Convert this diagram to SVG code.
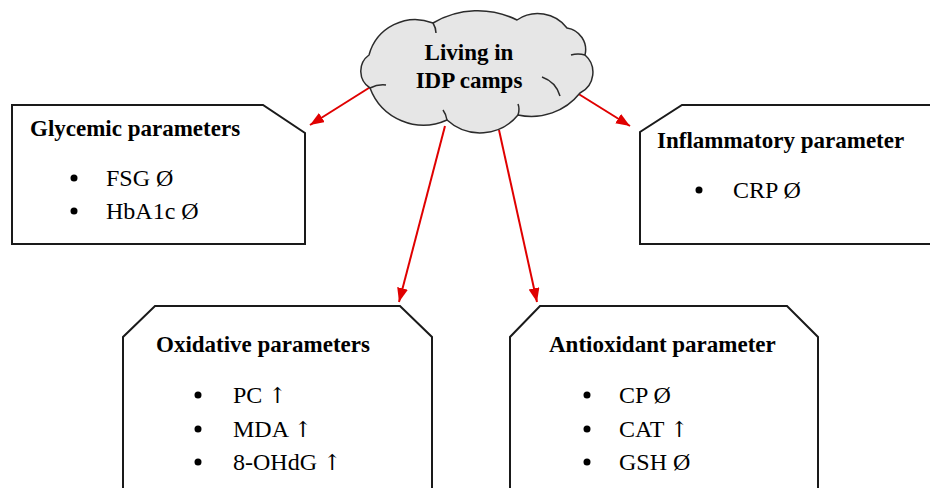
<svg xmlns="http://www.w3.org/2000/svg" width="930" height="488" viewBox="0 0 930 488">
  <defs>
    <marker id="arr" markerUnits="userSpaceOnUse" markerWidth="15" markerHeight="12" refX="14" refY="5.5" orient="auto">
      <path d="M0,0 L14,5.5 L0,11 z" fill="#e00000"/>
    </marker>
    <style>
      .box { fill: #ffffff; stroke: #1a1a1a; stroke-width: 2; }
      .cloud { fill: #e6e6e6; stroke: #2b2b2b; stroke-width: 1.5; }
      .inner { fill: none; stroke: #2b2b2b; stroke-width: 1.5; }
      .title { font-family: "Liberation Serif", "Times New Roman", serif; font-weight: bold; font-size: 23px; fill: #000; }
      .item { font-family: "Liberation Serif", "Times New Roman", serif; font-size: 24px; fill: #000; }
      .up { font-family: "DejaVu Serif", "DejaVu Sans", serif; font-size: 22px; fill: #000; }
      .bul { fill: #000; }
      .conn { stroke: #e00000; stroke-width: 2; fill: none; marker-end: url(#arr); }
    </style>
  </defs>
  <rect width="930" height="488" fill="#ffffff"/>

  <g id="connectors">
    <line class="conn" x1="372" y1="86" x2="310" y2="125"/>
    <line class="conn" x1="577" y1="93" x2="630" y2="126"/>
    <line class="conn" x1="445" y1="126" x2="399" y2="302"/>
    <line class="conn" x1="499" y1="130" x2="537" y2="302"/>
  </g>

  <g id="cloud">
    <path class="cloud" d="M370,88 A20,20 0 0 1 369,55 A48,48 0 0 1 433,23 A88,88 0 0 1 517,20 A37,37 0 0 1 567,28 A22,22 0 0 1 585,55 A23,23 0 0 1 580,93 A62,62 0 0 1 518,115 A49,49 0 0 1 447,120 A57,57 0 0 1 370,88 Z"/>
    <path class="inner" d="M370,88 Q378,84 386,85"/>
    <path class="inner" d="M447,120 Q446,114 443,110"/>
    <path class="inner" d="M518,115 Q520,109 518,104"/>
    <path class="inner" d="M542,77 Q556,82 560,96"/>
    <path class="inner" d="M585,55 Q578,53 571,55"/>
    <path class="inner" d="M433,23 Q436,28 436,33"/>
    <text class="title" x="469" y="60" text-anchor="middle">Living in</text>
    <text class="title" x="469" y="88" text-anchor="middle">IDP camps</text>
  </g>

  <g id="glycemic">
    <path class="box" d="M12,105 L263,105 L305,133 L305,244 L12,244 Z"/>
    <text class="title" x="30" y="136">Glycemic parameters</text>
    <circle class="bul" cx="74" cy="178" r="3.5"/>
    <text class="item" x="106" y="186">FSG Ø</text>
    <circle class="bul" cx="74" cy="211" r="3.5"/>
    <text class="item" x="106" y="219">HbA1c Ø</text>
  </g>

  <g id="inflammatory">
    <path class="box" d="M682,105 L940,105 L940,244 L640,244 L640,132 Z"/>
    <text class="title" x="657" y="148">Inflammatory parameter</text>
    <circle class="bul" cx="699" cy="190" r="3.5"/>
    <text class="item" x="733" y="198">CRP Ø</text>
  </g>

  <g id="oxidative">
    <path class="box" d="M123,500 L123,337 L155,306 L400,306 L432,337 L432,500"/>
    <text class="title" x="156" y="352">Oxidative parameters</text>
    <circle class="bul" cx="198" cy="395" r="3.5"/>
    <text class="item" x="233" y="403">PC <tspan class="up">↑</tspan></text>
    <circle class="bul" cx="198" cy="429" r="3.5"/>
    <text class="item" x="233" y="437">MDA <tspan class="up">↑</tspan></text>
    <circle class="bul" cx="198" cy="462" r="3.5"/>
    <text class="item" x="233" y="470">8-OHdG <tspan class="up">↑</tspan></text>
  </g>

  <g id="antioxidant">
    <path class="box" d="M510,500 L510,337 L540,306 L787,306 L818,337 L818,500"/>
    <text class="title" x="549" y="352">Antioxidant parameter</text>
    <circle class="bul" cx="587" cy="395" r="3.5"/>
    <text class="item" x="619" y="403">CP Ø</text>
    <circle class="bul" cx="587" cy="429" r="3.5"/>
    <text class="item" x="619" y="437">CAT <tspan class="up">↑</tspan></text>
    <circle class="bul" cx="587" cy="462" r="3.5"/>
    <text class="item" x="619" y="470">GSH Ø</text>
  </g>
</svg>
